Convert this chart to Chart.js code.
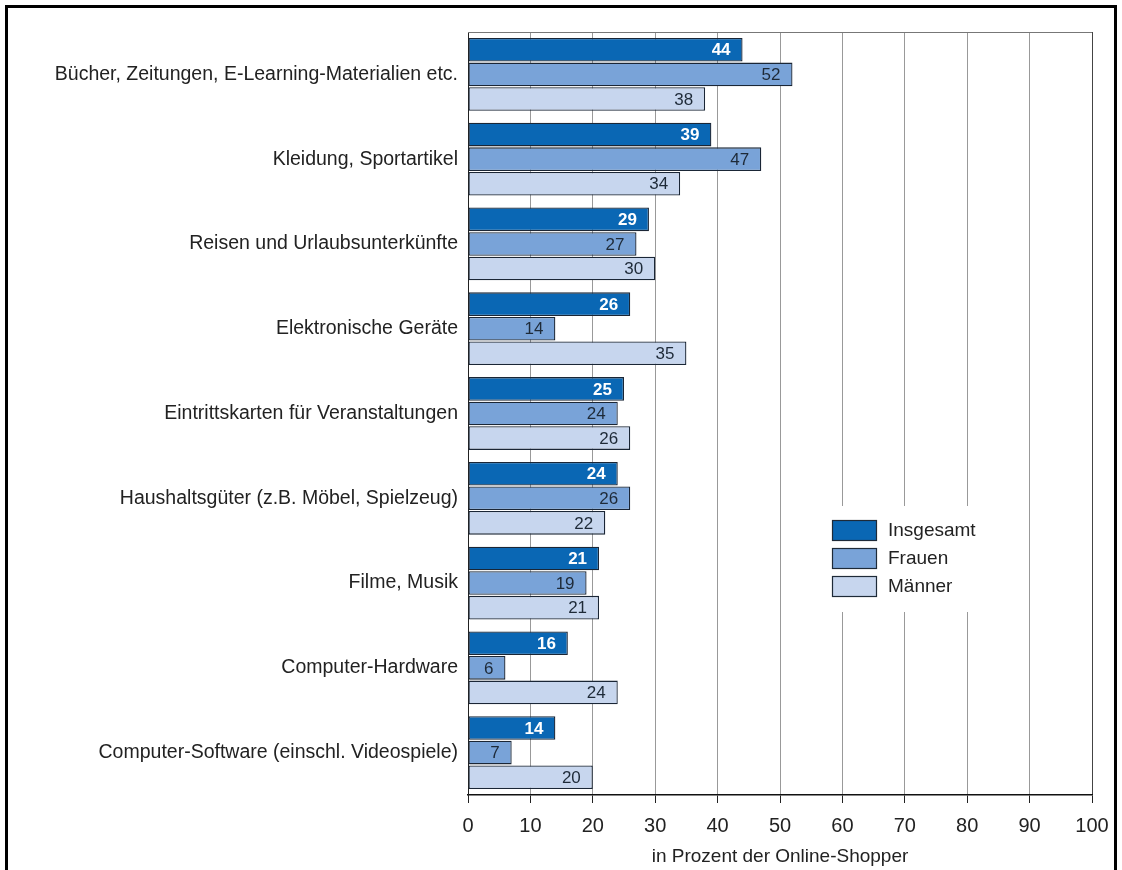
<!DOCTYPE html>
<html>
<head>
<meta charset="utf-8">
<script src="https://cdn.jsdelivr.net/npm/chart.js@4/dist/chart.umd.min.js"></script>
<style>
    body { margin: 0; background: #fff; }
    #wrap { position: relative; width: 1122px; height: 870px; }
    #frame {
        position: absolute; left: 5px; top: 5px; width: 1106px; height: 880px;
        border: 3px solid #000; border-bottom: none; pointer-events: none;
    }
</style>
</head>
<body>
<div id="wrap">
    <canvas id="shopChart" width="1122" height="870"></canvas>
    <div id="frame"></div>
</div>
<script>
const categories = [
    "Bücher, Zeitungen, E-Learning-Materialien etc.",
    "Kleidung, Sportartikel",
    "Reisen und Urlaubsunterkünfte",
    "Elektronische Geräte",
    "Eintrittskarten für Veranstaltungen",
    "Haushaltsgüter (z.B. Möbel, Spielzeug)",
    "Filme, Musik",
    "Computer-Hardware",
    "Computer-Software (einschl. Videospiele)"
];
const insgesamt = [44, 39, 29, 26, 25, 24, 21, 16, 14];
const frauen = [52, 47, 27, 14, 24, 26, 19, 6, 7];
const maenner = [38, 34, 30, 35, 26, 22, 21, 24, 20];
const xTicks = [0, 10, 20, 30, 40, 50, 60, 70, 80, 90, 100];

const FONT = '"Liberation Sans", Arial, Helvetica, sans-serif';
const series = [
    { label: "Insgesamt", data: insgesamt, bg: "#0a67b4", text: "#ffffff", bold: true },
    { label: "Frauen", data: frauen, bg: "#79a3d8", text: "#1e2a38", bold: false },
    { label: "Männer", data: maenner, bg: "#c7d6ee", text: "#1e2a38", bold: false }
];

//..value labels at the end of each bar
const valueLabels = {
    id: 'valueLabels',
    afterDatasetsDraw(chart) {
        const ctx = chart.ctx;
        ctx.save();
        ctx.textAlign = 'right';
        ctx.textBaseline = 'middle';
        chart.data.datasets.forEach((ds, i) => {
            const s = series[i];
            ctx.fillStyle = s.text;
            ctx.font = (s.bold ? 'bold ' : '') + '17px ' + FONT;
            chart.getDatasetMeta(i).data.forEach((bar, j) => {
                ctx.fillText(ds.data[j], bar.x - 12, bar.y + 1);
            });
        });
        ctx.restore();
    }
};

//..top line and legend box inside the plot
const extras = {
    id: 'extras',
    afterDraw(chart) {
        const ctx = chart.ctx;
        const a = chart.chartArea;
        ctx.save();
        ctx.strokeStyle = '#777';
        ctx.lineWidth = 1;
        ctx.beginPath();
        ctx.moveTo(a.left, a.top + 0.5);
        ctx.lineTo(a.right, a.top + 0.5);
        ctx.stroke();

        ctx.fillStyle = '#fff';
        ctx.fillRect(818, 506, 180, 106);
        series.forEach((s, i) => {
            const y = 520 + i * 28;
            ctx.fillStyle = s.bg;
            ctx.fillRect(832, y, 45, 21);
            ctx.strokeStyle = '#1e2a38';
            ctx.lineWidth = 1.2;
            ctx.strokeRect(832.5, y + 0.5, 44, 20);
            ctx.fillStyle = '#222';
            ctx.font = '19px ' + FONT;
            ctx.textAlign = 'left';
            ctx.textBaseline = 'middle';
            ctx.fillText(s.label, 888, y + 11);
        });
        ctx.restore();
    }
};

new Chart(document.getElementById('shopChart'), {
    type: 'bar',
    data: {
        labels: categories,
        datasets: series.map(s => ({
            label: s.label,
            data: s.data,
            backgroundColor: s.bg,
            borderColor: '#1a2636',
            borderWidth: 1.3,
            borderSkipped: false,
            categoryPercentage: 0.87,
            barPercentage: 0.96
        }))
    },
    options: {
        indexAxis: 'y',
        responsive: false,
        animation: false,
        layout: { padding: { top: 32, right: 30, bottom: 0, left: 0 } },
        plugins: {
            legend: { display: false },
            tooltip: { enabled: false }
        },
        scales: {
            x: {
                min: 0,
                max: 100,
                afterBuildTicks(scale) {
                    scale.ticks = xTicks.map(v => ({ value: v }));
                },
                afterFit(scale) { scale.height = 75; },
                grid: {
                    color: ctx => ctx.tick && ctx.tick.value === 100 ? '#444' : '#999',
                    tickColor: '#222',
                    tickLength: 8,
                    lineWidth: 1
                },
                border: { color: '#111', width: 1.5 },
                ticks: {
                    color: '#222',
                    padding: 11,
                    font: { family: FONT, size: 20 }
                },
                title: {
                    display: true,
                    text: 'in Prozent der Online-Shopper',
                    color: '#222',
                    padding: { top: 0, bottom: 2 },
                    font: { family: FONT, size: 19 }
                }
            },
            y: {
                afterFit(scale) { scale.width = 468; },
                grid: { display: false, drawTicks: false },
                border: { color: '#222', width: 1 },
                ticks: {
                    color: '#222',
                    padding: 10,
                    font: { family: FONT, size: 19.5 }
                }
            }
        }
    },
    plugins: [valueLabels, extras]
});
</script>
</body>
</html>
